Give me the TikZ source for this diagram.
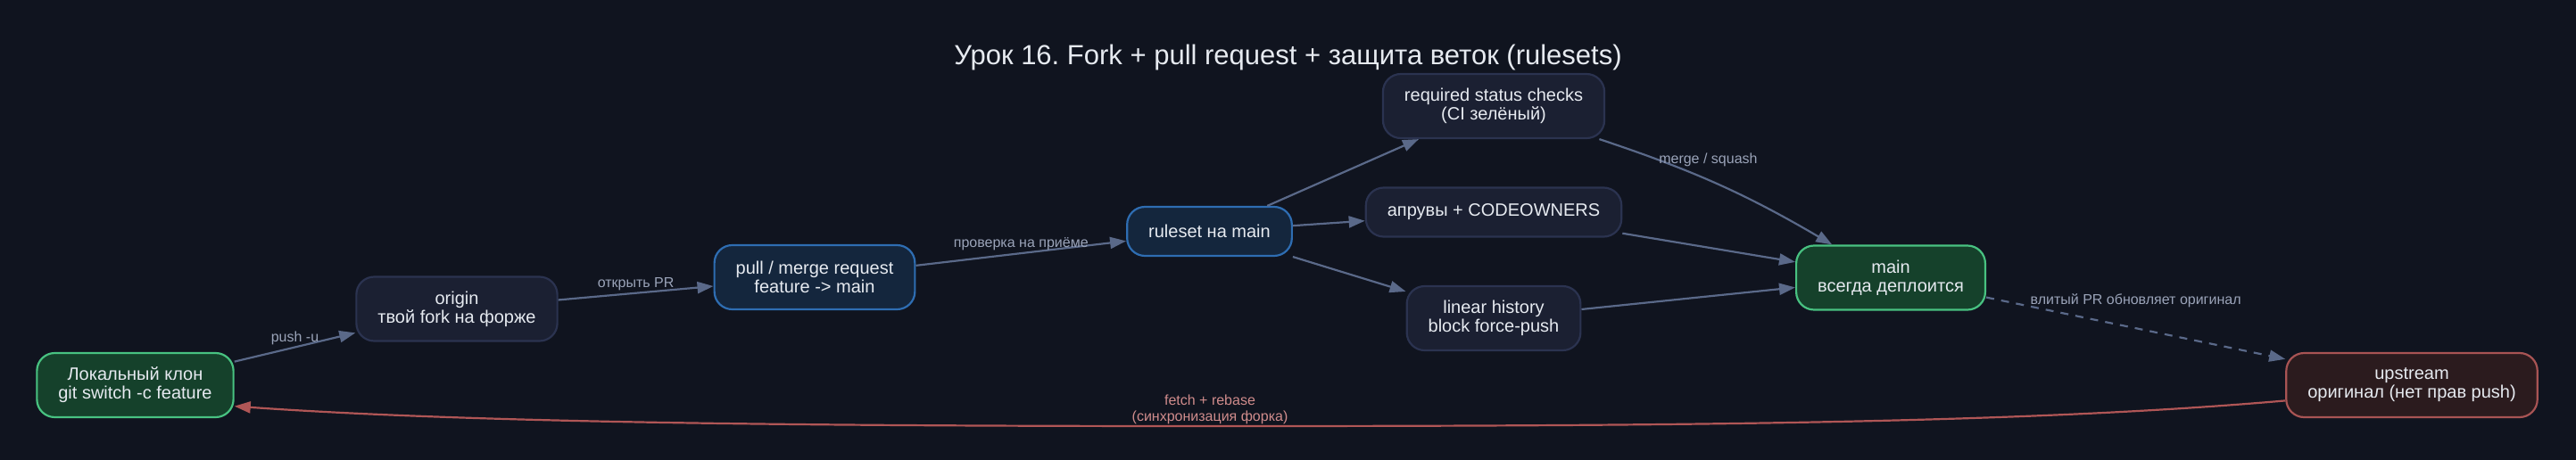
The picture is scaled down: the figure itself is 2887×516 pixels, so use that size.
\documentclass[tikz,border=0pt]{standalone}
\usepackage{fontspec}
\setmainfont{Liberation Sans}
\usepackage{xcolor}
\usepackage{tikz}
\usetikzlibrary{arrows.meta}
\frenchspacing

\definecolor{bgdark}{HTML}{10141F}
\definecolor{boxfill}{HTML}{1B2032}
\definecolor{boxline}{HTML}{2B3350}
\definecolor{bluefill}{HTML}{14263D}
\definecolor{blueline}{HTML}{2E6DB2}
\definecolor{greenfill}{HTML}{15412B}
\definecolor{greenline}{HTML}{48C281}
\definecolor{redfill}{HTML}{2B1B1E}
\definecolor{redline}{HTML}{A85454}
\definecolor{linkcol}{HTML}{5A6989}
\definecolor{synccol}{HTML}{B05656}
\definecolor{lblcol}{HTML}{9AA3B8}
\definecolor{synctext}{HTML}{D08C8C}
\definecolor{boxtext}{HTML}{E6EAF0}

\tikzset{
    box/.style={rectangle, rounded corners=20pt, draw=boxline, fill=boxfill, line width=2.2pt, text=boxtext, font=\fontsize{20}{21}\selectfont, align=center, inner xsep=24pt, inner ysep=4pt, minimum height=72pt},
    lbl/.style={font=\fontsize{16}{18}\selectfont, text=lblcol, inner sep=2pt}
}

\begin{document}
\begin{tikzpicture}[
    x=1pt, y=-1pt,
    greenbox/.style={box, draw=greenline, fill=greenfill},
    bluebox/.style={box, draw=blueline, fill=bluefill},
    redbox/.style={box, draw=redline, fill=redfill},
    flatbox/.style={minimum height=55pt},
    heading/.style={font=\fontsize{31}{36}\selectfont, text=boxtext, anchor=base},
    link/.style={line width=2.2pt, draw=linkcol, -{Triangle[length=18pt, width=13pt]}},
    sync/.style={link, draw=synccol},
    synclbl/.style={lbl, text=synctext, align=center, inner sep=1pt}
]

    % --- Background and page size ---
    \fill[bgdark] (0,0) rectangle (2887,516);
    \useasboundingbox (0,0) rectangle (2887,516);

    \node[heading] (title) at (1443.5,73) {Урок 16. Fork + pull request + защита веток (rulesets)};

    % --- Fork side ---
    \node[greenbox] (local) at (151.5,432) {Локальный клон\\git switch -c feature};
    \node[box] (origin) at (512,346.5) {origin\\твой fork на форже};
    \node[bluebox] (pr) at (913,311) {pull / merge request\\feature -> main};

    % --- Rules on main ---
    \node[bluebox, flatbox] (ruleset) at (1355.5,259.5) {ruleset на main};
    \node[box] (checks) at (1674,119) {required status checks\\(CI зелёный)};
    \node[box, flatbox] (approvals) at (1674,238) {апрувы + CODEOWNERS};
    \node[box] (linear) at (1674,357) {linear history\\block force-push};

    % --- Targets ---
    \node[greenbox] (main) at (2119,311.5) {main\\всегда деплоится};
    \node[redbox] (upstream) at (2703,432) {upstream\\оригинал (нет прав push)};

    % Flow towards the PR
    \draw[link] (local) -- node[lbl, above] {push -u} (origin);
    \draw[link] (origin) -- node[lbl, above] {открыть PR} (pr);
    \draw[link] (pr) -- node[lbl, above] {проверка на приёме} (ruleset);

    % Checks of the ruleset
    \foreach \n in {checks, approvals, linear}
        \draw[link] (ruleset) -- (\n);
    \draw[link] (checks) to[bend left=6] node[lbl, pos=0.45, above=12pt] {merge / squash} (main);
    \foreach \n in {approvals, linear}
        \draw[link] (\n) -- (main);

    % Merged PR and sync back
    \draw[link, dash pattern=on 9pt off 8pt] (main) -- node[lbl, above=20pt] {влитый PR обновляет оригинал} (upstream);
    \coordinate (syncmid) at (1356,478);
    \draw[sync] (upstream.187) .. controls +(185:300pt) and +(0:500pt) .. (syncmid)
        node[synclbl, above] {fetch + rebase\\(синхронизация форка)}
        .. controls +(180:500pt) and +(-4:250pt) .. (local.-12);

\end{tikzpicture}
\end{document}
